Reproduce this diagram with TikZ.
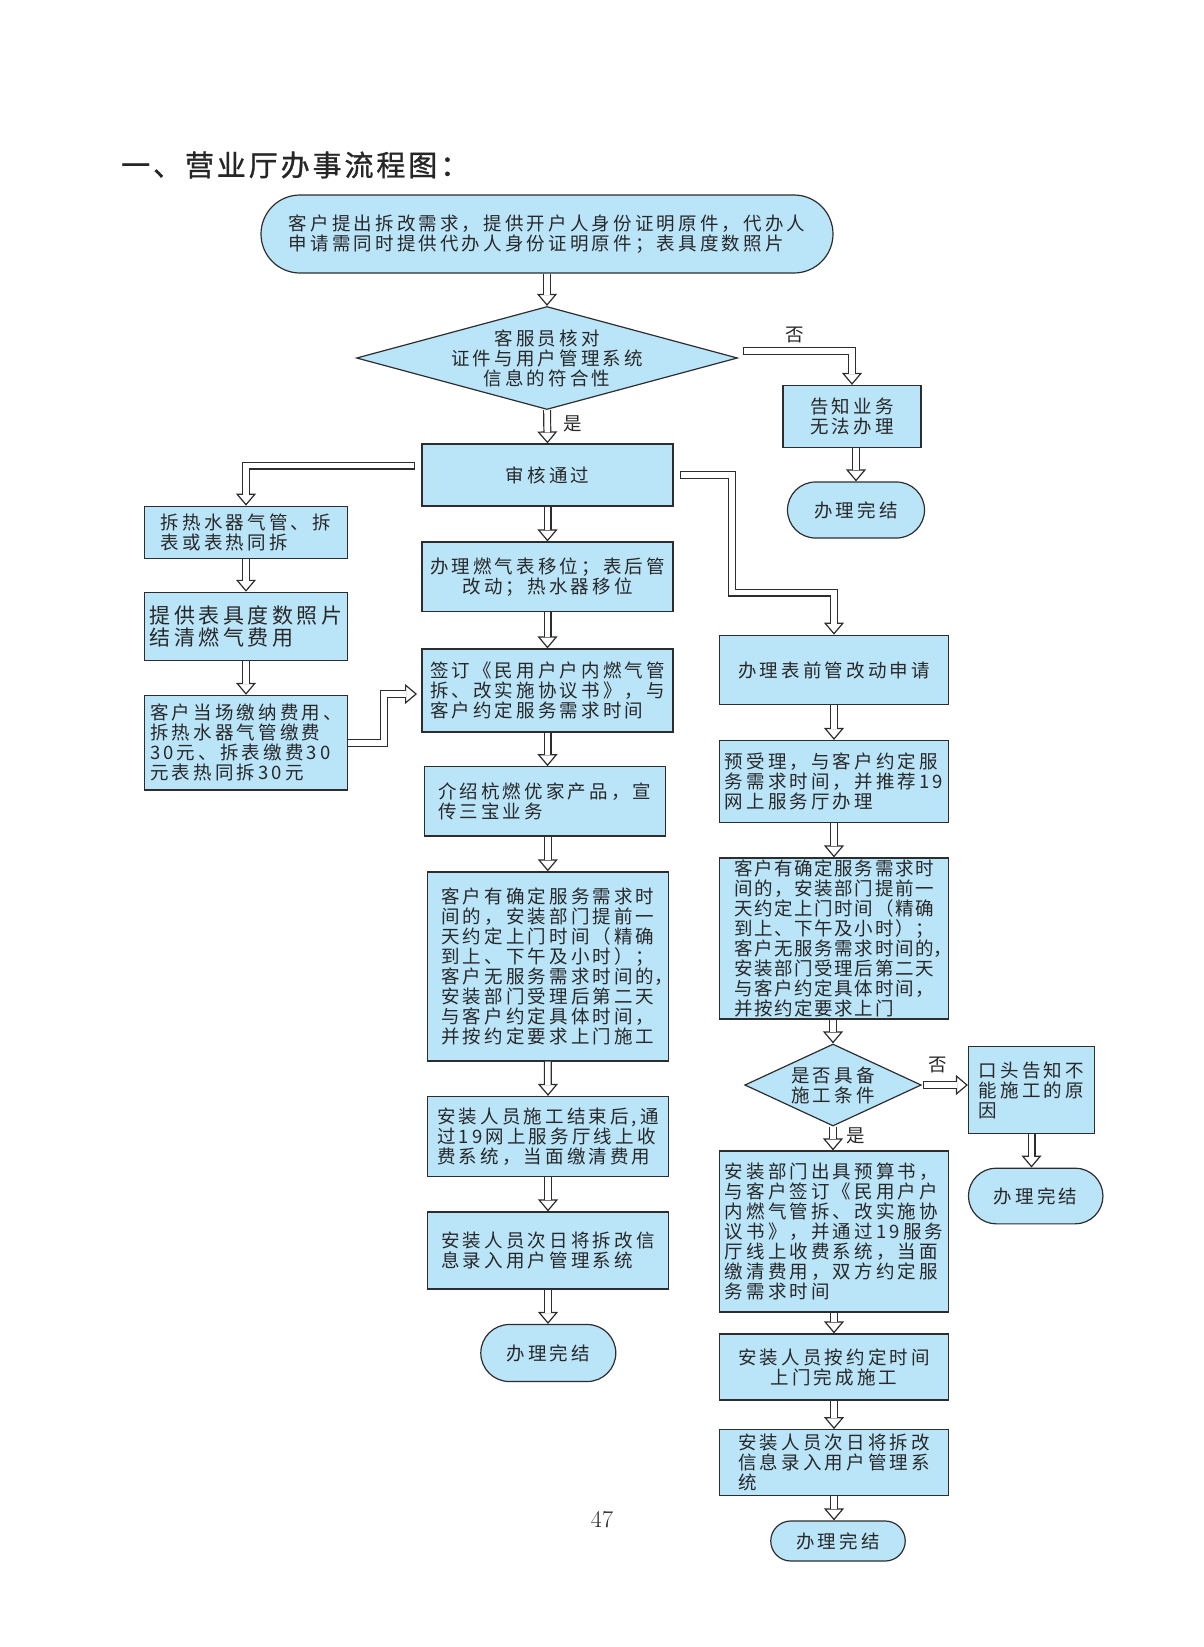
\documentclass[tikz,border=0pt]{standalone}
\usepackage{fontspec}
\usetikzlibrary{shapes.geometric,shapes.misc,arrows.meta}
\newfontfamily\cjk[LetterSpace=17]{Noto Sans CJK SC}
\newfontfamily\cjkn[LetterSpace=9]{Noto Sans CJK SC}
\newfontfamily\cjkt[LetterSpace=10,FakeBold=1]{Noto Sans CJK SC}
\definecolor{bf}{RGB}{186,228,248}
\definecolor{bc}{RGB}{45,45,45}
\definecolor{tc}{RGB}{40,40,40}
\tikzset{
  txt/.style={text=tc, font=\cjk\fontsize{18.5pt}{20pt}\selectfont},
  base/.style={txt, draw=bc, fill=bf, line width=1.2pt, inner sep=0pt},
  box/.style={base, rectangle, align=left},
  boxc/.style={base, rectangle, align=center},
  term/.style={base, rounded rectangle, align=center},
  dia/.style={base, diamond},
  dtext/.style={txt, inner sep=0pt, align=center},
  lbl/.style={txt, inner sep=0pt},
  hollow/.style={draw=bc, line width=1.2pt,
    -{Triangle[fill=white, length=12pt, width=20pt]},
    postaction={draw=bc, line width=1.2pt, double=white, double distance=5.6pt, shorten >=11pt, arrows=-}},
  hollowc/.style={draw=bc, line width=1.2pt,
    {Bar[width=8pt]}-{Triangle[fill=white, length=12pt, width=20pt]},
    postaction={draw=bc, line width=1.2pt, double=white, double distance=5.6pt, shorten >=11pt, shorten <=1.2pt, arrows=-}},
}
\begin{document}
\begin{tikzpicture}[x=1pt, y=-1pt]
\useasboundingbox (0,0) rectangle (1204,1647);
% title
\node[anchor=west, inner sep=0pt, text=black!85, font=\cjkt\fontsize{29pt}{29pt}\selectfont] (title) at (121,165) {一、营业厅办事流程图：};
% top
\node[term, align=left, minimum width=572pt, minimum height=78pt] (T0) at (547,234) {客户提出拆改需求，提供开户人身份证明原件，代办人\\申请需同时提供代办人身份证明原件；表具度数照片};
\node[dia, minimum width=381pt, minimum height=103pt] (D1) at (547,358) {};
\node[dtext] (D1t) at (D1.center) {客服员核对\\证件与用户管理系统\\信息的符合性};
\node[boxc, minimum width=138pt, minimum height=62pt] (gz) at (852,416.5) {告知业务\\无法办理};
\node[term, minimum width=137pt, minimum height=56pt] (E1) at (856,510) {办理完结};
\node[boxc, minimum width=251pt, minimum height=62pt] (SH) at (547.5,475) {审核通过};
% left column
\node[box, minimum width=203pt, minimum height=52.5pt] (L1) at (246,532.5) {拆热水器气管、拆\\表或表热同拆};
\node[box, minimum width=203pt, minimum height=68.3pt, font=\cjk\fontsize{21pt}{22pt}\selectfont] (L2) at (246,626.5) {提供表具度数照片\\结清燃气费用};
\node[box, minimum width=203pt, minimum height=94.6pt] (L3) at (246,742.7) {客户当场缴纳费用、\\拆热水器气管缴费\\30元、拆表缴费30\\元表热同拆30元};
% middle column
\node[boxc, minimum width=251pt, minimum height=69.3pt] (M1) at (547.5,576.7) {办理燃气表移位；表后管\\改动；热水器移位};
\node[box, minimum width=251pt, minimum height=83pt] (M2) at (547.5,690.5) {签订《民用户户内燃气管\\拆、改实施协议书》，与\\客户约定服务需求时间};
\node[box, minimum width=241pt, minimum height=69.3pt] (M3) at (544.7,801.4) {介绍杭燃优家产品，宣\\传三宝业务};
\node[box, minimum width=241pt, minimum height=189pt] (M4) at (547.8,966.4) {客户有确定服务需求时\\间的，安装部门提前一\\天约定上门时间（精确\\到上、下午及小时）；\\客户无服务需求时间的\rlap{，}\\安装部门受理后第二天\\与客户约定具体时间，\\并按约定要求上门施工};
\node[box, minimum width=241pt, minimum height=80pt] (M5) at (548,1136.5) {安装人员施工结束后,通\\过19网上服务厅线上收\\费系统，当面缴清费用};
\node[box, minimum width=241pt, minimum height=77pt] (M6) at (548,1250.5) {安装人员次日将拆改信\\息录入用户管理系统};
\node[term, minimum width=135pt, minimum height=57pt] (E2) at (548.3,1353) {办理完结};
% right column
\node[boxc, minimum width=229pt, minimum height=69.5pt] (R1) at (834,670) {办理表前管改动申请};
\node[box, minimum width=229pt, minimum height=82pt] (R2) at (834,781.5) {预受理，与客户约定服\\务需求时间，并推荐19\\网上服务厅办理};
\node[box, minimum width=229pt, minimum height=161pt, font=\cjkn\fontsize{18.5pt}{20pt}\selectfont] (R3) at (834,938.5) {客户有确定服务需求时\\间的，安装部门提前一\\天约定上门时间（精确\\到上、下午及小时）；\\客户无服务需求时间的\rlap{，}\\安装部门受理后第二天\\与客户约定具体时间，\\并按约定要求上门};
\node[dia, minimum width=176.5pt, minimum height=82pt] (D2) at (833,1085) {};
\node[dtext] (D2t) at (D2.center) {是否具备\\施工条件};
\node[box, minimum width=126pt, minimum height=87.5pt] (Q) at (1031.5,1090) {口头告知不\\能施工的原\\因};
\node[term, minimum width=134.5pt, minimum height=55.7pt] (E3) at (1035.7,1196) {办理完结};
\node[box, minimum width=229pt, minimum height=161pt] (R4) at (834,1231.5) {安装部门出具预算书，\\与客户签订《民用户户\\内燃气管拆、改实施协\\议书》，并通过19服务\\厅线上收费系统，当面\\缴清费用，双方约定服\\务需求时间};
\node[boxc, minimum width=229pt, minimum height=66pt] (R5) at (834,1367) {安装人员按约定时间\\上门完成施工};
\node[box, minimum width=229pt, minimum height=66pt] (R6) at (834,1462.7) {安装人员次日将拆改\\信息录入用户管理系\\统};
\node[term, minimum width=134.5pt, minimum height=40pt] (E4) at (838,1541) {办理完结};
% labels
\node[lbl] (no1) at (795,335) {否};
\node[lbl] (yes1) at (572.5,424) {是};
\node[lbl] (no2) at (938,1065) {否};
\node[lbl] (yes2) at (856,1135.5) {是};
\node[inner sep=0pt, text=tc, font=\fontsize{24pt}{24pt}\selectfont] (pn) at (602,1520) {47};
% free ends
\coordinate (c1) at (743,351);
\coordinate (c2) at (415,465.5);
\coordinate (c3) at (680,475);
\coordinate (c4) at (417,694);
\coordinate (c5) at (923,1085);
% connectors
\draw[hollow] (T0.south) -- (D1.north);
\draw[hollowc] (c1) -| (gz.north);
\draw[hollow] (gz.south -| E1.north) -- (E1.north);
\draw[hollow] (D1.south) -- (SH.north);
\draw[hollowc] (c2) -| (L1.north);
\draw[hollow] (L1.south) -- (L2.north);
\draw[hollow] (L2.south) -- (L3.north);
\draw[hollow] (L3.east) -- ++(36,0) |- (c4);
\draw[hollowc] (c3) -| ++(52,117.5) -| (R1.north);
\draw[hollow] (SH.south) -- (M1.north);
\draw[hollow] (M1.south) -- (M2.north);
\draw[hollow] (M2.south) -- (M2.south |- M3.north);
\draw[hollow] (M4.north |- M3.south) -- (M4.north);
\draw[hollow] (M4.south) -- (M5.north);
\draw[hollow] (M5.south) -- (M6.north);
\draw[hollow] (M6.south) -- (M6.south |- E2.north);
\draw[hollow] (R1.south) -- (R2.north);
\draw[hollow] (R2.south) -- (R3.north);
\draw[hollow] (R3.south -| D2.north) -- (D2.north);
\draw[hollow] (D2.south) -- (D2.south |- R4.north);
\draw[hollowc] (c5) -- (c5 -| Q.west);
\draw[hollow] (Q.south) -- (Q.south |- E3.north);
\draw[hollow] (R4.south) -- (R5.north);
\draw[hollow] (R5.south) -- (R6.north);
\draw[hollow] (R6.south) -- (R6.south |- E4.north);
\end{tikzpicture}
\end{document}
